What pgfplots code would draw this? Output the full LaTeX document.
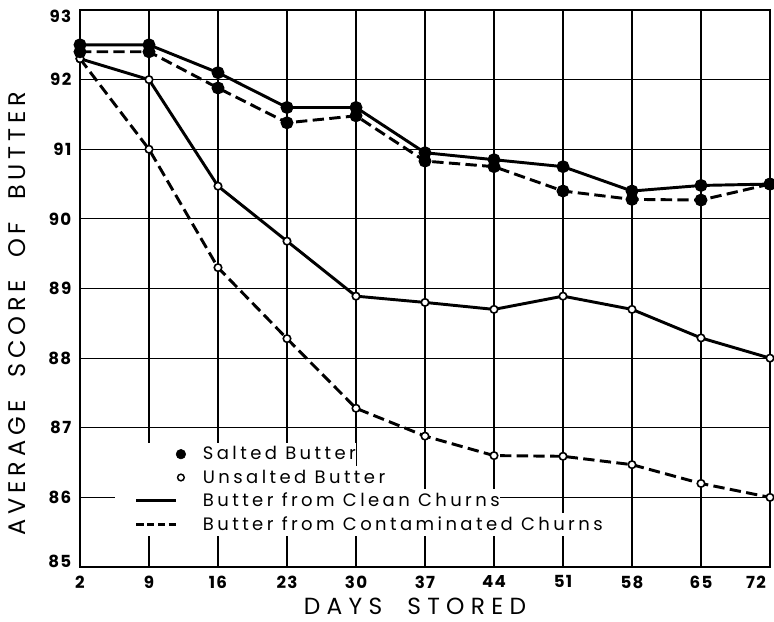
\documentclass[border=0pt]{standalone}
\usepackage{fontspec}
\setmainfont{Poppins}
\usepackage{pgfplots}
\pgfplotsset{compat=1.18}
\pgfplotsset{
  legmark/.style={legend image code/.code={%
    \path[fill=white, draw=none, solid, line width=0pt] (-15.75pt,-8.75pt) rectangle (50pt,8.75pt);
    \draw[##1] plot[only marks] coordinates {(33.5pt,0pt)};}},
  legline/.style={legend image code/.code={%
    \path[fill=white, draw=none, solid, line width=0pt] (-15.75pt,-8.75pt) rectangle (50pt,8.75pt);
    \draw[##1] (0pt,0pt) -- (30pt,0pt);}},
}
\begin{document}
\begin{tikzpicture}
\begin{axis}[
  scale only axis, width=517.5pt, height=417.75pt,
  xmin=2, xmax=72, ymin=85, ymax=93,
  xtick={2,9,16,23,30,37,44,51,58,65},
  extra x ticks={72},
  extra x tick style={xticklabel style={anchor=north east, xshift=0.5pt}},
  ytick={85,86,...,93},
  yticklabels={\raisebox{4pt}[9pt][0pt]{85},86,87,88,89,90,91,92,\raisebox{-5pt}[9pt][0pt]{93}},
  grid=major,
  grid style={black, line width=0.9pt},
  axis line style={black, line width=2pt},
  tick style={draw=none},
  /pgf/number format/assume math mode=true,
  ticklabel style={font={\fontsize{12.5}{12.5}\selectfont\bfseries\addfontfeatures{LetterSpace=8}}},
  xticklabel style={yshift=-3pt},
  yticklabel style={xshift=-3pt},
  xlabel={DAYS\ \ STORED},
  ylabel={AVERAGE\ \ SCORE\ \ OF\ \ BUTTER},
  label style={font={\fontsize{17.5}{17.5}\selectfont\addfontfeatures{LetterSpace=27}}},
  ylabel style={font={\fontsize{18}{18}\selectfont\addfontfeatures{LetterSpace=20}}, at={(axis description cs:-0.0909,0.455)}, anchor=center},
  xlabel style={inner sep=0pt, at={(axis description cs:0.4855,-0.071)}, anchor=center},
  clip=false,
  legend cell align=left,
  legend style={draw=none, fill=none, inner sep=0pt, column sep=0pt, row sep=0pt,
    at={(0.0507,0.224)}, anchor=north west,
    font={\fontsize{13.5}{13.5}\selectfont\addfontfeatures{LetterSpace=19}},
    nodes={inner sep=0pt, fill=white, minimum height=17.5pt}},
]
\addlegendimage{legmark, black, mark=*, mark size=3.6pt, fill=black}
\addlegendentry{Salted Butter\hspace{11pt}}
\addlegendimage{legmark, black, mark=*, mark size=2.5pt, fill=white, line width=1.1pt}
\addlegendentry{Unsalted Butter\hspace{11pt}}
\addlegendimage{legline, black, line width=2.3pt}
\addlegendentry{Butter from Clean Churns\hspace{11pt}}
\addlegendimage{legline, black, line width=2.3pt, dash pattern=on 5.5pt off 2.6pt}
\addlegendentry{Butter from Contaminated Churns\hspace{11pt}}

% Unsalted, contaminated churns
\addplot[forget plot, black, line width=2.2pt, dash pattern=on 8.5pt off 4pt,
  mark=*, mark size=2.8pt, mark options={solid, fill=white, line width=1.2pt}]
  coordinates {(2,92.3) (9,91.0) (16,89.3) (23,88.28) (30,87.28) (37,86.88)
   (44,86.6) (51,86.59) (58,86.47) (65,86.2) (72,86.0)};
% Unsalted, clean churns
\addplot[forget plot, black, line width=2.2pt,
  mark=*, mark size=2.8pt, mark options={solid, fill=white, line width=1.2pt}]
  coordinates {(2,92.3) (9,92.0) (16,90.47) (23,89.68) (30,88.89) (37,88.8)
   (44,88.7) (51,88.89) (58,88.7) (65,88.29) (72,88.0)};
% Salted, contaminated churns
\addplot[forget plot, black, line width=2.2pt, dash pattern=on 8.5pt off 4pt,
  mark=*, mark size=3.7pt, mark options={solid, fill=black}]
  coordinates {(2,92.4) (9,92.4) (16,91.88) (23,91.38) (30,91.48) (37,90.83)
   (44,90.75) (51,90.4) (58,90.28) (65,90.27) (72,90.5)};
% Salted, clean churns
\addplot[forget plot, black, line width=2.2pt,
  mark=*, mark size=3.7pt, mark options={solid, fill=black}]
  coordinates {(2,92.5) (9,92.5) (16,92.1) (23,91.6) (30,91.6) (37,90.95)
   (44,90.85) (51,90.75) (58,90.4) (65,90.48) (72,90.5)};
\end{axis}
\pgfresetboundingbox
\path ([shift={(-60pt,-40.5pt)}]current axis.south west) rectangle ([shift={(3pt,7.5pt)}]current axis.north east);
\end{tikzpicture}
\end{document}
